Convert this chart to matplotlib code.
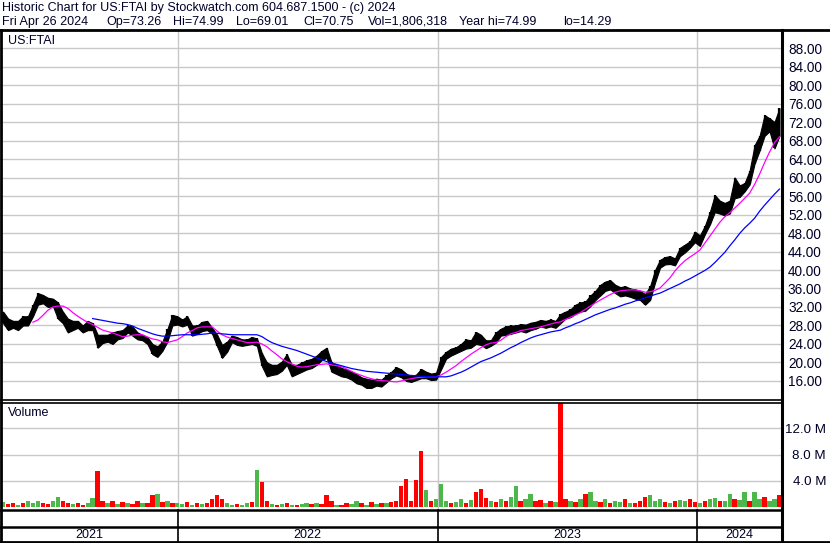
import numpy as np
import pandas as pd
import matplotlib
matplotlib.use("Agg")
import matplotlib.pyplot as plt
import matplotlib.dates as mdates
from matplotlib.lines import Line2D

plt.rcParams["font.family"] = ["Liberation Sans", "DejaVu Sans"]

# weekly bars (Friday dates)
week_lo = [28.5, 27.0, 27.5, 27.0, 28.0, 28.0, 30.0, 32.5, 32.8, 32.0,
           32.2, 29.5, 28.5, 26.5, 27.0, 27.5, 26.5, 27.0, 27.0, 23.2,
           24.2, 24.5, 24.0, 25.0, 25.3, 26.5, 25.8, 25.0, 24.8, 24.0,
           21.8, 21.2, 22.5, 24.5, 28.0, 28.2, 27.8, 28.2, 25.8, 26.2,
           26.8, 27.0, 26.2, 23.5, 21.0, 22.3, 24.4, 23.8, 23.6, 23.8,
           24.0, 23.6, 19.2, 17.0, 17.3, 17.5, 18.2, 19.5, 17.0, 17.5,
           18.0, 18.5, 18.8, 19.5, 20.5, 21.0, 18.0, 17.5, 17.0, 16.8,
           16.3, 15.5, 15.2, 14.5, 14.5, 15.0, 14.8, 15.7, 16.6, 17.2,
           16.8, 16.0, 15.8, 16.2, 16.6, 16.6, 16.2, 16.3, 18.5, 20.8,
           21.5, 22.0, 22.5, 23.0, 23.2, 24.0, 23.8, 23.1, 23.6, 24.3,
           25.8, 26.0, 26.2, 26.5, 26.8, 26.5, 27.0, 27.3, 27.8, 27.5,
           27.8, 27.5, 28.5, 29.5, 29.8, 30.5, 31.0, 31.2, 32.2, 33.5,
           34.5, 35.5, 35.8, 35.0, 34.3, 34.5, 34.2, 33.8, 33.5, 32.5,
           33.5, 37.3, 40.5, 41.2, 41.3, 41.0, 43.0, 43.8, 44.8, 46.0,
           45.2, 47.7, 49.8, 52.5, 52.2, 51.8, 52.2, 55.5, 55.8, 57.0,
           58.5, 63.0, 65.8, 69.0, 70.0, 66.3, 69.0]
week_hi = [31.0, 29.5, 29.0, 29.0, 30.0, 30.0, 32.5, 35.0, 34.6, 34.0,
           33.8, 33.0, 31.0, 29.5, 29.0, 29.0, 28.0, 29.0, 28.5, 26.0,
           26.0, 26.0, 26.5, 26.8, 27.0, 28.0, 27.8, 26.5, 26.0, 25.5,
           24.0, 23.5, 24.5, 27.2, 30.3, 30.0, 29.3, 30.0, 28.0, 28.0,
           28.8, 29.0, 27.5, 26.0, 23.8, 24.5, 25.8, 25.5, 25.0, 25.0,
           25.5, 25.2, 22.0, 20.0, 19.5, 19.5, 20.2, 21.8, 19.5, 19.5,
           20.0, 20.5, 20.8, 21.5, 22.5, 23.2, 20.0, 19.5, 18.8, 18.5,
           18.0, 17.5, 16.8, 16.5, 16.3, 16.5, 16.3, 17.2, 18.0, 19.0,
           18.5, 17.6, 17.0, 17.4, 18.6, 18.0, 17.6, 17.8, 21.2, 22.3,
           23.0, 23.3, 24.0, 25.0, 24.8, 26.6, 26.0, 24.8, 24.8, 26.5,
           27.3, 27.8, 28.0, 28.0, 28.3, 28.2, 28.6, 28.8, 29.2, 29.0,
           29.3, 29.0, 30.5, 31.0, 31.5, 32.5, 33.0, 33.2, 34.5, 35.5,
           36.8, 37.5, 37.8, 36.8, 36.3, 36.5, 36.0, 35.8, 35.5, 34.8,
           36.5, 40.0, 42.2, 42.8, 43.0, 42.5, 44.8, 45.5, 46.2, 48.3,
           47.5, 49.5, 52.5, 56.2, 55.0, 54.5, 55.0, 60.0, 58.3, 58.8,
           61.5, 67.0, 69.0, 73.5, 72.8, 72.0, 75.0]

nan = np.nan
ma_fast = [nan] * 6 + [
    28.7, 29.2, 30.2, 31.3, 32.0, 32.2, 32.2, 31.7, 30.8, 30.0,
    29.3, 28.7, 28.2, 27.6, 27.0, 26.7, 26.4, 26.0, 25.6, 25.7,
    25.9, 26.0, 26.0, 25.5, 25.1, 24.9, 24.5, 24.3, 24.6, 24.9,
    25.6, 26.4, 26.9, 27.5, 27.7, 27.7, 27.7, 26.8, 26.0, 25.5,
    25.2, 24.9, 24.6, 24.3, 24.3, 24.4, 24.0, 23.4, 22.5, 21.7,
    20.8, 20.2, 19.7, 19.2, 19.0, 19.1, 19.3, 19.5, 19.6, 19.7,
    19.5, 19.3, 19.1, 18.6, 18.1, 17.6, 17.2, 16.8, 16.5, 16.2,
    16.1, 16.0, 15.9, 15.8, 16.0, 16.3, 16.5, 16.7, 16.8, 16.9,
    16.9, 16.9, 17.3, 17.9, 18.6, 19.3, 20.2, 21.0, 21.8, 22.5,
    23.2, 23.8, 24.2, 24.3, 24.8, 25.6, 26.2, 26.5, 26.9, 27.1,
    27.3, 27.5, 27.7, 28.0, 28.3, 28.6, 28.8, 29.3, 29.8, 30.3,
    30.8, 31.5, 32.2, 32.9, 33.5, 34.1, 34.7, 35.2, 35.5, 35.6,
    35.7, 35.7, 35.5, 35.2, 35.3, 35.6, 36.1, 37.2, 38.3, 39.8,
    41.0, 42.0, 42.8, 43.5, 44.3, 45.8, 47.3, 48.8, 50.3, 51.5,
    52.4, 53.4, 54.4, 55.5, 56.6, 58.5, 60.7, 63.2, 65.5, 67.5,
    68.8]
ma_slow = [nan] * 18 + [
    29.5, 29.3, 29.1, 28.9, 28.7, 28.5, 28.4, 28.2, 27.9, 27.4,
    27.0, 26.6, 26.2, 25.9, 25.7, 25.7, 25.8, 25.9, 26.0, 26.0,
    26.0, 26.0, 26.1, 26.2, 26.4, 26.3, 26.2, 26.1, 26.0, 26.0,
    26.0, 26.0, 26.0, 26.0, 25.6, 24.9, 24.3, 23.9, 23.5, 23.2,
    22.9, 22.6, 22.2, 21.8, 21.4, 21.0, 20.6, 20.2, 19.9, 19.6,
    19.3, 19.0, 18.7, 18.5, 18.3, 18.1, 18.0, 17.9, 17.8, 17.7,
    17.6, 17.5, 17.4, 17.3, 17.2, 17.1, 17.0, 17.0, 16.9, 16.9,
    16.9, 16.9, 17.1, 17.5, 17.9, 18.4, 19.0, 19.6, 20.2, 20.6,
    21.0, 21.5, 22.0, 22.6, 23.2, 23.7, 24.3, 24.8, 25.3, 25.7,
    26.0, 26.3, 26.6, 26.8, 27.0, 27.5, 27.9, 28.4, 28.8, 29.3,
    29.8, 30.3, 30.7, 31.1, 31.5, 31.8, 32.2, 32.6, 32.9, 33.3,
    33.6, 34.0, 34.3, 34.7, 35.0, 35.5, 36.0, 36.5, 37.0, 37.6,
    38.1, 38.7, 39.3, 39.9, 40.6, 41.6, 42.7, 43.8, 45.2, 46.5,
    47.9, 49.1, 50.1, 51.2, 52.7, 54.0, 55.2, 56.4, 57.5]

# volume in millions, and whether the bar is an up (green) bar
vol_m = [0.8, 0.5, 0.6, 0.4, 0.7, 1.0, 0.6, 1.0, 0.7, 0.5,
         0.9, 1.5, 0.9, 0.6, 0.5, 0.7, 0.4, 0.6, 1.4, 5.5,
         1.0, 0.7, 1.0, 0.5, 0.8, 0.6, 0.5, 0.9, 0.6, 0.7,
         1.8, 2.0, 0.8, 1.0, 0.6, 0.7, 0.5, 0.8, 0.4, 0.6,
         0.5, 0.7, 1.2, 1.8, 1.2, 0.6, 0.4, 0.5, 0.3, 0.6,
         0.8, 5.7, 3.8, 0.9, 0.5, 0.4, 0.5, 0.6, 0.4, 0.3,
         0.5, 0.6, 0.5, 0.7, 0.5, 1.9, 1.0, 0.4, 0.3, 0.7,
         0.5, 0.9, 0.6, 0.4, 0.8, 0.5, 0.6, 0.7, 0.8, 1.0,
         3.3, 4.3, 1.0, 4.2, 8.6, 2.7, 1.0, 1.3, 3.6, 1.0,
         0.6, 0.8, 1.2, 0.7, 1.1, 2.4, 2.8, 1.4, 1.0, 0.8,
         1.3, 1.0, 1.5, 3.2, 1.0, 1.2, 2.0, 0.9, 1.1, 0.6,
         1.0, 0.8, 15.8, 1.2, 0.9, 0.8, 1.3, 2.0, 2.3, 1.0,
         0.8, 1.2, 0.7, 1.0, 0.8, 1.2, 0.7, 0.6, 1.0, 1.5,
         1.9, 1.0, 1.3, 0.8, 0.7, 0.9, 1.1, 0.9, 1.3, 0.8,
         0.7, 1.0, 1.2, 1.4, 1.0, 0.9, 2.0, 1.2, 1.1, 2.3,
         1.0, 2.3, 1.2, 1.5, 1.0, 1.3, 1.9]
vol_up = [1, 0, 0, 1, 0, 1, 1, 1, 0, 0,
          1, 1, 0, 0, 1, 0, 0, 1, 1, 0,
          0, 1, 0, 1, 0, 1, 0, 0, 1, 0,
          0, 1, 0, 1, 0, 1, 1, 0, 1, 0,
          1, 0, 0, 0, 0, 1, 1, 0, 1, 1,
          0, 1, 0, 0, 1, 0, 1, 0, 1, 0,
          1, 1, 0, 1, 0, 0, 0, 1, 0, 0,
          1, 1, 0, 1, 0, 1, 0, 1, 0, 0,
          0, 0, 0, 0, 0, 1, 0, 1, 1, 1,
          0, 1, 1, 0, 1, 0, 0, 0, 1, 0,
          1, 0, 1, 1, 0, 1, 1, 0, 0, 1,
          0, 1, 0, 0, 1, 0, 1, 0, 1, 1,
          0, 1, 0, 1, 1, 0, 1, 0, 0, 0,
          1, 1, 1, 0, 1, 0, 1, 1, 0, 0,
          1, 0, 1, 1, 0, 1, 1, 0, 1, 1,
          0, 1, 1, 0, 1, 1, 0]

price_ticks = list(range(16, 89, 4))
vol_ticks = [4, 8, 12]
vol_tick_labels = ["4.0 M", "8.0 M", "12.0 M"]
years = ["2021", "2022", "2023", "2024"]
year_starts = ["2022-01-01", "2023-01-01", "2024-01-01"]

header1 = "Historic Chart for US:FTAI by Stockwatch.com 604.687.1500 - (c) 2024"
header2 = ["Fri Apr 26 2024", "Op=73.26", "Hi=74.99", "Lo=69.01", "Cl=70.75",
           "Vol=1,806,318", "Year hi=74.99", "lo=14.29"]
header2_x = [2, 106, 173, 236, 303, 368, 459, 563]   # left edge of each field, px

W, H = 830, 543
TXT = "#000028"
GRID = "#c8c8c8"


def fx(px):
    return px / W


def fy(py):
    return 1 - py / H


weeks = pd.date_range("2021-04-30", periods=len(week_hi), freq="W-FRI")
xd = mdates.date2num(weeks)
ys = mdates.date2num(pd.to_datetime(year_starts))
ppd = (697 - 178) / (ys[2] - ys[0])          # pixels per day
x_left = ys[0] - 178 / ppd
x_right = ys[2] + (781 - 697) / ppd

fig = plt.figure(figsize=(W / 100, H / 100), dpi=100)
fig.patch.set_facecolor("white")

ax = fig.add_axes([0, fy(400), fx(781), (400 - 31) / H])
axv = fig.add_axes([0, fy(510), fx(781), (510 - 403) / H])

for a in (ax, axv):
    a.set_xlim(x_left, x_right)
    for s in a.spines.values():
        s.set_visible(False)
    a.set_xticks(ys)
    a.set_xticklabels([])
    a.tick_params(axis="x", length=0)
    a.grid(True, color=GRID, lw=1.0)
    a.set_axisbelow(True)
    a.yaxis.tick_right()

# price panel: weekly high-low range as a jagged black band
ax.set_ylim(11.89, 91.68)
ax.fill_between(xd, week_lo, week_hi, color="black", lw=0.8)
ax.vlines(xd, week_lo, week_hi, color="black", lw=1.6)
ax.plot(xd, ma_fast, color="#ff00ff", lw=0.9)
ax.plot(xd, ma_slow, color="#0000ff", lw=0.9)
ax.set_yticks(price_ticks)
ax.set_yticklabels([f"{v:.2f}" for v in price_ticks])
ax.tick_params(axis="y", length=0, pad=29.5, labelsize=9.8, labelcolor=TXT)
plt.setp(ax.get_yticklabels(), ha="right")
ax.text(fx(8) / fx(781), 1 - 10 / 369, "US:FTAI", transform=ax.transAxes,
        ha="left", va="center", fontsize=9, color=TXT)

# volume panel
axv.set_ylim(-0.41, 15.85)
colors = ["#4cb84c" if u else "#ff0000" for u in vol_up]
axv.bar(xd, vol_m, width=6.2, color=colors, bottom=0, align="center", lw=0)
axv.set_yticks(vol_ticks)
axv.set_yticklabels(vol_tick_labels)
axv.tick_params(axis="y", length=0, pad=32.4, labelsize=9.6, labelcolor=TXT)
plt.setp(axv.get_yticklabels(), ha="right")
axv.text(fx(8) / fx(781), 1 - 10 / 107, "Volume", transform=axv.transAxes,
         ha="left", va="center", fontsize=9, color=TXT)

# header
fig.text(fx(2), fy(8), header1, ha="left", va="center", fontsize=9.0, color=TXT)
for txt, px in zip(header2, header2_x):
    fig.text(fx(px), fy(22), txt, ha="left", va="center", fontsize=9.0, color=TXT)


def hline(y, x0, x1, lw=1.5):
    fig.add_artist(Line2D([fx(x0), fx(x1)], [fy(y), fy(y)], color="black",
                          lw=lw, transform=fig.transFigure))


def vline(x, y0, y1, lw=1.5):
    fig.add_artist(Line2D([fx(x), fx(x)], [fy(y0), fy(y1)], color="black",
                          lw=lw, transform=fig.transFigure))


hline(30, 0, W, 2.0)
hline(400, 0, 782, 1.2)
hline(403, 0, 782, 1.2)
hline(510, 0, 782, 1.8)
hline(527, 0, 782, 1.8)
hline(542, 0, W, 2.0)
vline(1, 30, 543, 2.0)
vline(781.5, 30, 543, 2.2)

# year row
bounds = [0] + [178 + (y - ys[0]) * ppd for y in ys] + [781]
for b in bounds[1:-1]:
    vline(b, 510, 542, 1.2)
for i, label in enumerate(years):
    fig.text(fx((bounds[i] + bounds[i + 1]) / 2), fy(535), label,
             ha="center", va="center", fontsize=9, color=TXT)

fig.savefig("out.png", dpi=100)
